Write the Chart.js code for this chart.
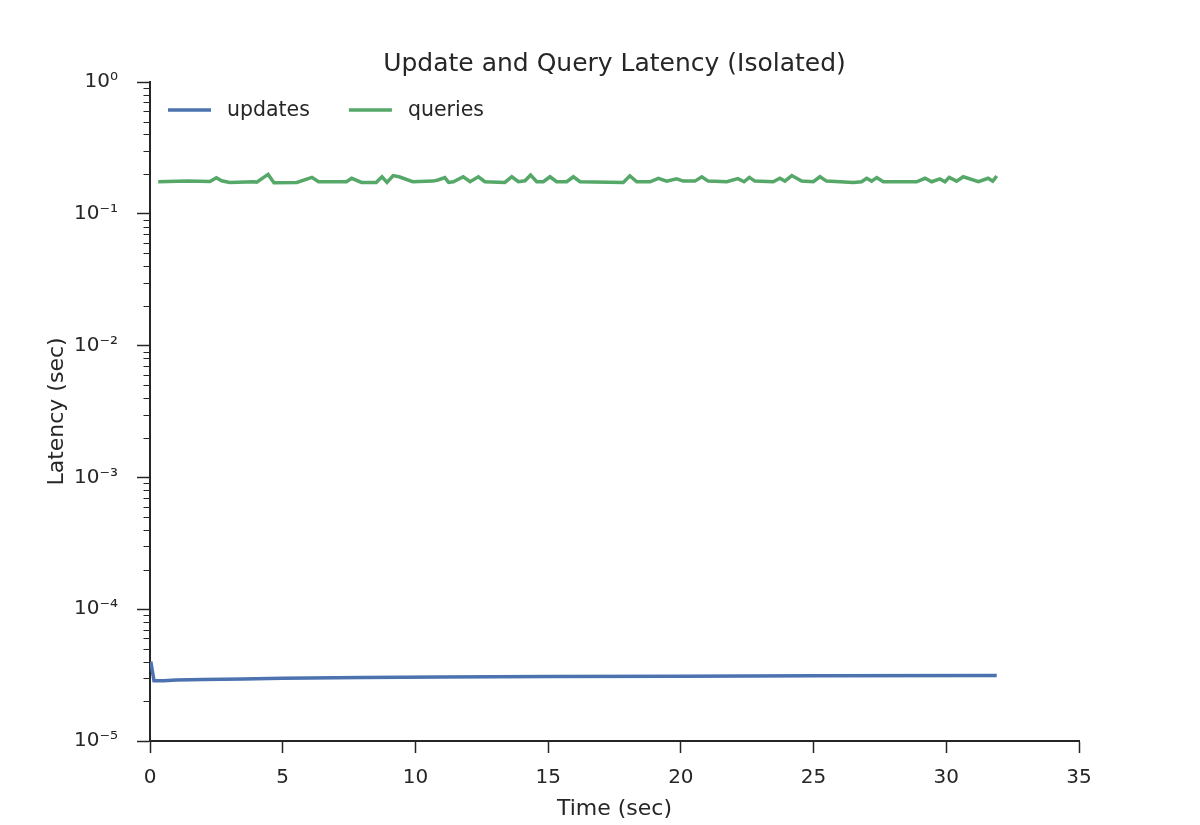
<!DOCTYPE html>
<html>
<head>
<meta charset="utf-8">
<title>Update and Query Latency (Isolated)</title>
<script src="https://cdn.jsdelivr.net/npm/chart.js@4.4.1/dist/chart.umd.min.js"></script>
<style>
  html, body { margin: 0; padding: 0; background: #fff; }
</style>
</head>
<body>
<canvas id="grafico-latencia" width="1200" height="825"></canvas>
<script>
// updates series (sec)
const updateTimes = [0.03, 0.15, 0.5, 1, 2, 3.5, 5, 8, 11, 15, 20, 25, 31.9];
const updateLatency = [4.0e-5, 2.87e-5, 2.87e-5, 2.9e-5, 2.93e-5, 2.96e-5, 2.99e-5, 3.03e-5, 3.06e-5, 3.08e-5, 3.1e-5, 3.12e-5, 3.14e-5];

// queries series (sec)
const queryTimes = [
    0.31, 1.4, 2.26, 2.5, 2.7, 3.0, 3.9, 4.02, 4.45, 4.67, 5.53, 6.1, 6.35, 7.4, 7.6, 7.97,
    8.52, 8.74, 8.93, 9.16, 9.38, 9.9, 10.66, 10.85, 11.11, 11.25, 11.43, 11.8, 12.06, 12.37,
    12.62, 13.37, 13.63, 13.88, 14.13, 14.34, 14.57, 14.82, 15.07, 15.32, 15.7, 15.95, 16.2,
    17.83, 18.08, 18.34, 18.84, 19.15, 19.47, 19.84, 20.09, 20.53, 20.79, 21.03, 21.73, 22.15,
    22.38, 22.58, 22.79, 23.48, 23.73, 23.92, 24.18, 24.55, 24.99, 25.24, 25.49, 26.5, 26.81,
    27.0, 27.19, 27.38, 27.63, 28.88, 29.2, 29.45, 29.76, 29.95, 30.11, 30.39, 30.64, 31.21,
    31.58, 31.75, 31.9
];
const queryLatency = [
    0.175, 0.177, 0.176, 0.188, 0.178, 0.173, 0.175, 0.174, 0.199, 0.172, 0.173, 0.189, 0.175, 0.175, 0.186, 0.173,
    0.173, 0.191, 0.173, 0.195, 0.191, 0.175, 0.177, 0.1805, 0.188, 0.173, 0.175, 0.191, 0.175, 0.191,
    0.175, 0.173, 0.191, 0.175, 0.178, 0.197, 0.175, 0.175, 0.191, 0.175, 0.175, 0.191, 0.175,
    0.173, 0.194, 0.175, 0.175, 0.186, 0.177, 0.184, 0.177, 0.177, 0.191, 0.177, 0.175, 0.185,
    0.175, 0.189, 0.177, 0.175, 0.186, 0.177, 0.195, 0.177, 0.175, 0.191, 0.177, 0.173, 0.175,
    0.186, 0.177, 0.188, 0.175, 0.175, 0.186, 0.175, 0.184, 0.175, 0.189, 0.177, 0.191, 0.175,
    0.186, 0.177, 0.1935
];

const yTickValues = [1e-5, 1e-4, 1e-3, 1e-2, 1e-1, 1];
const yTickLabels = ['10\u207B\u2075', '10\u207B\u2074', '10\u207B\u00B3', '10\u207B\u00B2', '10\u207B\u00B9', '10\u2070'];

const corTexto = '#262626';
const fonte = 'DejaVu Sans';

// minor ticks of the log axis (2..9 x 10^n), drawn through the y scale
const minorTicks = {
    id: 'minorTicks',
    afterDraw(chart) {
        const y = chart.scales.y;
        const ctx = chart.ctx;
        ctx.save();
        ctx.strokeStyle = corTexto;
        ctx.lineWidth = 1;
        for (let n = -5; n < 0; n++) {
            for (let k = 2; k <= 9; k++) {
                const py = Math.round(y.getPixelForValue(k * Math.pow(10, n))) + 0.5;
                ctx.beginPath();
                ctx.moveTo(y.right - 6.5, py);
                ctx.lineTo(y.right, py);
                ctx.stroke();
            }
        }
        ctx.restore();
    }
};

// legend inside the plot, top left, like matplotlib's loc="upper left"
const legendaInterna = {
    id: 'legendaInterna',
    afterDraw(chart) {
        const ctx = chart.ctx;
        const area = chart.chartArea;
        let x = area.left + 18;
        const y = area.top + 28;
        ctx.save();
        ctx.font = '20.5px "' + fonte + '"';
        ctx.textBaseline = 'middle';
        ctx.textAlign = 'left';
        chart.data.datasets.forEach(ds => {
            ctx.strokeStyle = ds.borderColor;
            ctx.lineWidth = 3.5;
            ctx.beginPath();
            ctx.moveTo(x, y);
            ctx.lineTo(x + 43, y);
            ctx.stroke();
            ctx.fillStyle = corTexto;
            ctx.fillText(ds.label, x + 59, y + 1);
            x += 59 + ctx.measureText(ds.label).width + 39;
        });
        ctx.restore();
    }
};

new Chart(document.getElementById('grafico-latencia'), {
    type: 'line',
    data: {
        datasets: [
            {
                label: 'updates',
                data: updateTimes.map((t, i) => ({ x: t, y: updateLatency[i] })),
                borderColor: '#4c72b0',
                backgroundColor: '#4c72b0',
                borderWidth: 3.5,
                pointRadius: 0,
                tension: 0
            },
            {
                label: 'queries',
                data: queryTimes.map((t, i) => ({ x: t, y: queryLatency[i] })),
                borderColor: '#55a868',
                backgroundColor: '#55a868',
                borderWidth: 3.5,
                pointRadius: 0,
                tension: 0
            }
        ]
    },
    options: {
        responsive: false,
        animation: false,
        layout: { padding: { left: 0, right: 121, top: 0, bottom: 0 } },
        plugins: {
            title: {
                display: true,
                fullSize: false,
                text: 'Update and Query Latency (Isolated)',
                color: corTexto,
                font: { family: fonte, size: 25, weight: 'normal' },
                padding: { top: 49, bottom: 3 }
            },
            legend: { display: false },
            tooltip: { enabled: false }
        },
        scales: {
            x: {
                type: 'linear',
                min: 0,
                max: 35,
                afterFit(scale) { scale.height = 84; },
                border: { display: true, color: corTexto, width: 2 },
                grid: { display: true, drawOnChartArea: false, drawTicks: true, tickLength: 12, tickColor: corTexto, tickWidth: 1.5 },
                ticks: {
                    stepSize: 5,
                    color: corTexto,
                    padding: 13,
                    maxRotation: 0,
                    font: { family: fonte, size: 20 }
                },
                title: {
                    display: true,
                    text: 'Time (sec)',
                    color: corTexto,
                    font: { family: fonte, size: 22 },
                    padding: { top: 0, bottom: 3 }
                }
            },
            y: {
                type: 'logarithmic',
                min: 1e-5,
                max: 1,
                afterFit(scale) { scale.width = 150; },
                afterBuildTicks(scale) {
                    scale.ticks = yTickValues.map(v => ({ value: v, major: true }));
                },
                border: { display: true, color: corTexto, width: 2 },
                grid: { display: true, drawOnChartArea: false, drawTicks: true, tickLength: 13, tickColor: corTexto, tickWidth: 1.5 },
                ticks: {
                    color: corTexto,
                    padding: 19,
                    autoSkip: false,
                    font: { family: fonte, size: 20 },
                    callback: (value) => {
                        const i = yTickValues.findIndex(v => Math.abs(Math.log10(v) - Math.log10(value)) < 1e-6);
                        return i >= 0 ? yTickLabels[i] : '';
                    }
                },
                title: {
                    display: true,
                    text: 'Latency (sec)',
                    color: corTexto,
                    font: { family: fonte, size: 22 },
                    padding: { top: 44, bottom: 0 }
                }
            }
        }
    },
    plugins: [minorTicks, legendaInterna]
});
</script>
</body>
</html>
